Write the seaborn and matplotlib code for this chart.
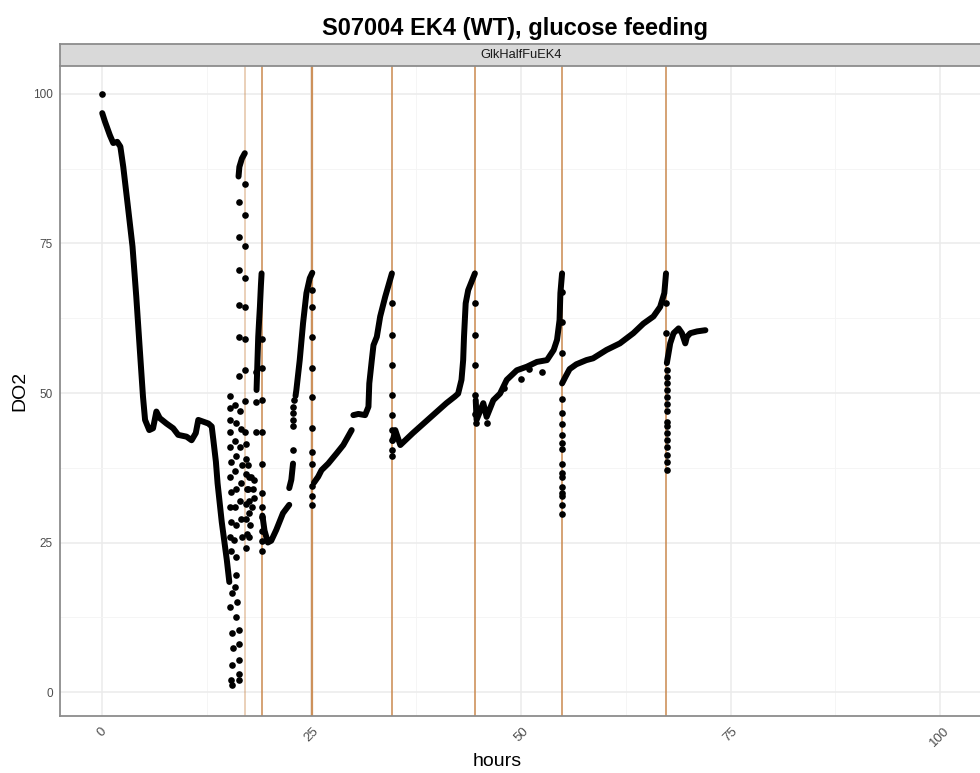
import matplotlib
matplotlib.use("Agg")
import matplotlib.pyplot as plt
import numpy as np
import pandas as pd
import seaborn as sns

# ---------------- data ----------------
title = "S07004 EK4 (WT), glucose feeding"
strip_label = "GlkHalfFuEK4"
x_ticks = [0, 25, 50, 75, 100]
y_ticks = [0, 25, 50, 75, 100]

# feeding times (vertical lines), hours
feed_times = [17.06, 19.1, 25.1, 34.6, 44.5, 54.9, 67.35]

# dense runs of measurements (drawn as continuous point trails)
seg1_h = [0.04, 0.36, 0.95, 1.35, 1.83, 2.2, 2.55, 3.1, 3.65, 4.1, 4.5, 4.9, 5.15, 5.65,
          6.1, 6.5, 6.9, 7.7, 8.5, 9.1, 10.1, 10.7, 11.2, 11.5, 12.1, 12.7, 13.1, 13.3,
          13.6, 13.8, 14.3, 14.9, 15.2]
seg1_do2 = [96.8, 95.4, 93.1, 91.8, 92.0, 91.2, 87.8, 81.2, 74.5, 66.1, 57.7, 49.4, 45.5, 43.8,
            44.1, 46.9, 45.8, 44.9, 44.1, 43.0, 42.7, 42.1, 43.3, 45.5, 45.2, 44.9, 44.4, 42.1,
            38.5, 34.9, 28.4, 22.1, 18.4]
seg2_h = [16.3, 16.4, 16.7, 17.05]
seg2_do2 = [86.2, 87.8, 89.2, 90.1]
seg3_h = [18.45, 18.55, 18.65, 18.75, 18.85, 18.97, 19.05]
seg3_do2 = [50.5, 55.0, 59.4, 62.0, 64.4, 68.0, 70.0]
seg4_h = [19.15, 19.4, 19.8, 20.2, 20.8, 21.6, 22.35]
seg4_do2 = [29.5, 27.0, 25.0, 25.3, 27.1, 29.9, 31.3]
seg5_h = [22.35, 22.6, 22.8]
seg5_do2 = [34.1, 35.5, 38.2]
seg6_h = [23.1, 23.2, 23.6, 24.0, 24.4, 24.8, 25.1]
seg6_do2 = [49.5, 50.5, 55.5, 61.7, 66.7, 69.2, 70.1]
seg7_h = [25.3, 25.8, 26.2, 27.0, 28.0, 28.8, 29.8]
seg7_do2 = [35.0, 36.0, 37.1, 38.2, 39.9, 41.3, 43.8]
seg8_h = [30.0, 30.6, 31.4, 31.8, 31.9, 32.2, 32.4, 32.8, 33.2, 33.8, 34.6]
seg8_do2 = [46.3, 46.5, 46.3, 47.7, 51.6, 55.5, 58.0, 59.4, 62.8, 66.1, 70.0]
seg9_h = [34.7, 35.0, 35.6, 37.1, 39.1, 41.1, 42.1, 42.5, 42.9, 43.1, 43.2, 43.4, 43.7,
          44.1, 44.5]
seg9_do2 = [42.0, 43.8, 41.3, 43.3, 45.8, 48.3, 49.4, 49.9, 52.2, 55.5, 59.4, 65.0, 67.2,
            68.6, 70.0]
seg10_h = [44.6, 44.7, 45.5, 45.9, 46.7, 47.5, 48.3, 49.5, 50.7, 51.9, 53.1, 53.9, 54.3,
           54.6, 54.7, 54.9]
seg10_do2 = [48.8, 45.5, 48.3, 46.0, 48.8, 49.9, 52.2, 53.8, 54.4, 55.2, 55.5, 57.2, 58.9,
             62.2, 66.7, 70.0]
seg11_h = [54.9, 55.3, 55.8, 56.6, 57.8, 58.6, 60.2, 61.8, 63.4, 64.6, 65.8, 66.6, 67.1, 67.3]
seg11_do2 = [51.6, 52.7, 54.0, 54.8, 55.5, 55.8, 57.2, 58.3, 60.0, 61.6, 62.8, 64.4, 66.7, 70.0]
seg12_h = [67.4, 67.8, 68.2, 68.8, 69.2, 69.6, 69.8, 70.2, 71.0, 72.0]
seg12_do2 = [55.0, 58.3, 60.0, 60.8, 60.0, 58.3, 59.4, 60.0, 60.3, 60.5]

# isolated measurements
dots_h = [0.0,
          17.1, 16.4, 17.1, 16.4, 17.1, 16.4, 17.1, 16.4, 17.1, 16.4, 17.1, 17.1, 16.4, 17.1, 17.1,
          15.3, 15.3, 15.3, 15.3, 15.3, 15.4, 15.3, 15.4, 15.3, 15.4, 15.3, 15.4, 15.5, 15.3,
          15.5, 15.6, 15.5, 15.5, 15.4,
          15.9, 16.0, 15.9, 16.0, 15.9, 16.0, 15.9, 16.0, 15.8, 16.0, 16.0, 15.9, 16.1, 16.0,
          16.4, 16.3, 16.4, 16.3, 16.4,
          16.5, 16.6, 16.5, 16.7, 16.6, 16.5, 16.6, 16.7,
          17.2, 17.2, 17.2, 17.3, 17.2, 17.2, 17.3, 17.2,
          17.4, 17.5, 17.4, 17.6, 17.5, 17.7, 17.6,
          17.8, 18.0, 18.2, 17.9, 18.1,
          18.4, 18.4, 18.4,
          19.06, 19.06, 19.06, 19.06, 19.06, 19.06, 19.06, 19.06, 19.06, 19.06, 19.06,
          22.8, 22.85, 22.85, 22.85, 22.85, 22.9,
          25.1, 25.1, 25.1, 25.1, 25.1, 25.1, 25.1, 25.1, 25.1, 25.1, 25.1,
          34.6, 34.6, 34.6, 34.6, 34.6, 34.6, 34.6, 34.6, 34.6,
          44.5, 44.5, 44.5, 44.5, 44.5, 44.6,
          54.9, 54.9, 54.9,
          54.95, 54.9, 54.9, 54.9, 54.9, 54.9, 54.9, 54.9, 54.9, 54.9, 54.9, 54.9, 54.9, 54.9,
          67.3, 67.3,
          67.4, 67.4, 67.4, 67.4, 67.4, 67.4, 67.4, 67.4, 67.4, 67.4, 67.4, 67.4, 67.4, 67.4, 67.4,
          46.0, 48.0, 50.0, 52.5, 51.0]
dots_do2 = [100.0,
            84.9, 82.0, 79.7, 76.1, 74.5, 70.5, 69.3, 64.7, 64.4, 59.4, 59.0, 53.8, 52.9, 48.7, 43.5,
            49.5, 47.5, 45.5, 43.5, 41.0, 38.5, 36.0, 33.5, 31.0, 28.5, 26.0, 23.5, 16.5, 14.3,
            9.8, 7.3, 4.5, 1.2, 2.0,
            48.0, 45.0, 42.0, 39.5, 37.0, 34.0, 31.0, 28.0, 25.5, 22.5, 19.5, 17.5, 15.0, 12.5,
            10.4, 8.0, 5.4, 2.0, 3.0,
            47.0, 44.0, 41.0, 38.0, 35.0, 32.0, 29.0, 26.0,
            41.5, 39.0, 36.5, 34.0, 31.5, 29.0, 26.5, 24.0,
            38.0, 36.0, 34.0, 32.0, 30.0, 28.0, 26.0,
            36.0, 34.0, 32.5, 31.0, 35.5,
            48.5, 43.4, 53.5,
            59.1, 54.1, 48.9, 43.4, 38.2, 33.2, 31.0, 29.3, 27.0, 25.2, 23.5,
            40.5, 44.4, 45.5, 46.6, 47.7, 48.8,
            67.2, 64.4, 59.4, 54.1, 49.4, 44.1, 40.2, 38.2, 34.5, 32.7, 31.3,
            65.0, 59.7, 54.7, 49.7, 46.4, 43.8, 42.1, 40.5, 39.4,
            65.0, 59.7, 54.6, 49.7, 46.5, 45.0,
            66.9, 61.9, 56.7,
            49.0, 46.6, 44.9, 43.0, 41.6, 40.6, 38.1, 36.6, 35.9, 34.3, 33.2, 32.7, 31.3, 29.7,
            65.0, 60.0,
            53.8, 52.7, 51.6, 50.5, 49.4, 48.2, 47.0, 45.2, 44.4, 43.3, 42.1, 41.0, 39.6, 38.5, 37.2,
            45.0, 50.8, 52.3, 53.5, 54.0]

# ---------------- build tables ----------------
segments = [(seg1_h, seg1_do2), (seg2_h, seg2_do2), (seg3_h, seg3_do2), (seg4_h, seg4_do2),
            (seg5_h, seg5_do2), (seg6_h, seg6_do2), (seg7_h, seg7_do2), (seg8_h, seg8_do2),
            (seg9_h, seg9_do2), (seg10_h, seg10_do2), (seg11_h, seg11_do2), (seg12_h, seg12_do2)]
rows = []
for i, (hs, ds) in enumerate(segments):
    for hh, dd in zip(hs, ds):
        rows.append((i, hh, dd))
df_lines = pd.DataFrame(rows, columns=["seg", "hours", "DO2"])
df_dots = pd.DataFrame({"hours": dots_h, "DO2": dots_do2})

# ---------------- style ----------------
sns.set_theme(style="white")
plt.rcParams["font.family"] = ["Liberation Sans", "DejaVu Sans"]

W, H = 980, 773
fig = plt.figure(figsize=(W / 100, H / 100), dpi=100)
ax = fig.add_axes([60 / W, (H - 716) / H, 922 / W, 650 / H])
ax.set_xlim(-5, 105)
ax.set_ylim(-4.01, 104.68)

# grid (major + minor like theme_bw)
ax.set_xticks(x_ticks)
ax.set_yticks(y_ticks)
ax.set_xticks([12.5, 37.5, 62.5, 87.5], minor=True)
ax.set_yticks([12.5, 37.5, 62.5, 87.5], minor=True)
ax.grid(which="major", color="#EBEBEB", linewidth=1.1, zorder=0)
ax.grid(which="minor", color="#F4F4F4", linewidth=0.6, zorder=0)
ax.set_axisbelow(True)
ax.tick_params(which="minor", length=0)
ax.tick_params(which="major", length=3.5, width=0.9, color="#555555",
               labelcolor="#4D4D4D")
ax.tick_params(axis="y", pad=1.5, labelsize=8.5)
ax.tick_params(axis="x", pad=3, labelsize=9.5)
for lbl in ax.get_xticklabels():
    lbl.set_rotation(45)
    lbl.set_ha("center")
    lbl.set_va("top")

for s in ["left", "bottom"]:
    ax.spines[s].set_color("#8C8C8C")
    ax.spines[s].set_linewidth(1.3)
for s in ["top", "right"]:
    ax.spines[s].set_visible(False)

# feeding lines
for i, t in enumerate(feed_times):
    ax.axvline(t, color="#C9864A", linewidth=1.6 if t == 25.1 else 1.2,
               alpha=0.45 if i == 0 else 0.9, zorder=1.5)

# data
sns.lineplot(data=df_lines, x="hours", y="DO2", units="seg", estimator=None, sort=False,
             color="black", linewidth=4.3, solid_capstyle="round", solid_joinstyle="round",
             legend=False, ax=ax, zorder=3)
sns.scatterplot(data=df_dots, x="hours", y="DO2", color="black", s=23, linewidth=0,
                legend=False, ax=ax, zorder=3)

ax.set_xlabel("hours", fontsize=14, color="black")
ax.set_ylabel("DO2", fontsize=14, color="black")
ax.xaxis.set_label_coords((497 - 60) / 922, -(762 - 716) / 650)
ax.xaxis.label.set_va("center")
ax.yaxis.set_label_coords((20 - 60) / 922, 0.5)
ax.yaxis.label.set_va("center")

# facet strip
sax = fig.add_axes([60 / W, (H - 66) / H, 922 / W, 22 / H])
sax.set_facecolor("#D9D9D9")
sax.set_xticks([])
sax.set_yticks([])
for s in sax.spines.values():
    s.set_color("#8C8C8C")
    s.set_linewidth(1.3)
sax.text(0.5, 0.5, strip_label, transform=sax.transAxes, ha="center", va="center",
         fontsize=9.3, color="#1A1A1A")

fig.text(514.5 / W, 1 - 28 / H, title, ha="center", va="center",
         fontsize=17, fontweight="bold", color="black")

fig.savefig("out.png", dpi=100)
